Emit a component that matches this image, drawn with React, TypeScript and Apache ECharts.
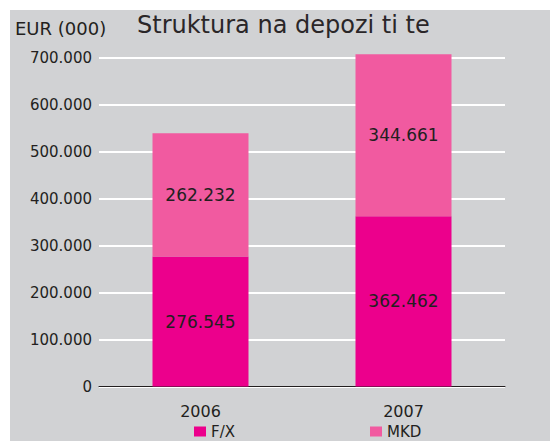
import React, { useEffect, useRef } from "react";
import * as echarts from "echarts";

const categories = ["2006", "2007"];
const fxValues = [276545, 362462];
const mkdValues = [262232, 344661];
const seriesNames = ["F/X", "MKD"];
const unitLabel = "EUR (000)";
const chartTitle = "Struktura na depozi ti te";

const FONT = "DejaVu Sans";
const TEXT = "#231f20";

const fmt = (v: number) => {
  const s = Math.round(v).toString();
  return s.replace(/\B(?=(\d{3})+(?!\d))/g, ".");
};

export default function App() {
  const ref = useRef<HTMLDivElement>(null);
  useEffect(() => {
    if (!ref.current) return;
    const chart = echarts.init(ref.current, null, { renderer: "svg" });
    const labelCfg = {
      show: true,
      position: "inside",
      color: TEXT,
      fontFamily: FONT,
      fontSize: 17,
      formatter: (p: any) => fmt(p.value),
    };
    chart.setOption({
      animation: false,
      backgroundColor: "#d1d2d4",
      textStyle: { fontFamily: FONT },
      graphic: [
        {
          type: "text",
          left: 5,
          top: 9,
          style: { text: unitLabel, fill: TEXT, font: `18px "${FONT}"` },
        },
        {
          type: "text",
          left: 127,
          top: 3,
          style: { text: chartTitle, fill: "#2a2628", font: `24px "${FONT}"` },
        },
      ],
      legend: [
        {
          data: [seriesNames[0]],
          left: 184,
          top: 414,
          padding: 0,
          itemWidth: 12,
          itemHeight: 10,
          itemGap: 6,
          textStyle: { color: TEXT, fontFamily: FONT, fontSize: 15 },
          icon: "rect",
        },
        {
          data: [seriesNames[1]],
          left: 360,
          top: 414,
          padding: 0,
          itemWidth: 12,
          itemHeight: 10,
          itemGap: 6,
          textStyle: { color: TEXT, fontFamily: FONT, fontSize: 15 },
          icon: "rect",
        },
      ],
      grid: { left: 89, right: 45, top: 47.5, bottom: 54.5, containLabel: false },
      xAxis: {
        type: "category",
        data: categories,
        axisTick: { show: false },
        axisLine: { lineStyle: { color: TEXT, width: 1 } },
        axisLabel: { color: TEXT, fontFamily: FONT, fontSize: 16, margin: 17 },
      },
      yAxis: {
        type: "value",
        min: 0,
        max: 700000,
        interval: 100000,
        axisLine: { show: false },
        axisTick: { show: false },
        axisLabel: {
          color: TEXT,
          fontFamily: FONT,
          fontSize: 15,
          margin: 7,
          formatter: (v: number) => fmt(v),
        },
        splitLine: { lineStyle: { color: "#ffffff", width: 2 } },
      },
      series: [
        {
          name: seriesNames[0],
          type: "bar",
          stack: "total",
          data: fxValues,
          barWidth: 96,
          clip: false,
          itemStyle: { color: "#ec008c" },
          label: labelCfg,
        },
        {
          name: seriesNames[1],
          type: "bar",
          stack: "total",
          data: mkdValues,
          barWidth: 96,
          clip: false,
          itemStyle: { color: "#f15aa0" },
          label: labelCfg,
        },
      ],
    });
    return () => chart.dispose();
  }, []);
  return (
    <div
      ref={ref}
      style={{ position: "absolute", left: 10, top: 10, width: 540, height: 431 }}
    />
  );
}
